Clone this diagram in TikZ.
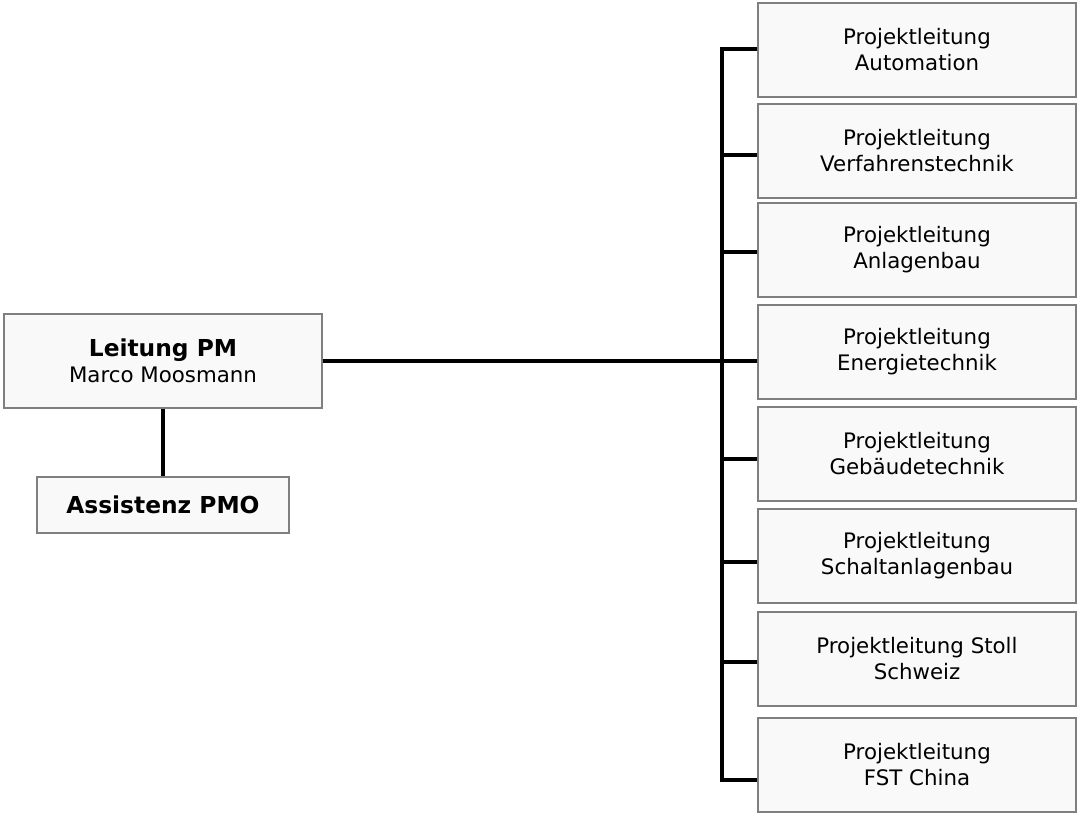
\documentclass[tikz,border=0pt]{standalone}
\usepackage{fontspec}
\setmainfont{DejaVu Sans}
\usetikzlibrary{calc}
\definecolor{boxline}{HTML}{7F7F7F}
\definecolor{boxfill}{HTML}{F9F9F9}

\begin{document}
\begin{tikzpicture}[x=0.75pt,y=-0.75pt]
\tikzset{
    box/.style={draw=boxline, fill=boxfill, line width=1.1pt, align=center, inner sep=0pt,
        minimum width=238.5pt, minimum height=70.5pt,
        font=\fontsize{16}{19.5}\selectfont},
    boldtext/.style={font=\bfseries\fontsize{17.5}{19}\selectfont},
    conn/.style={line width=3pt},
}
\useasboundingbox (0,0) rectangle (1077,815);
\coordinate (busx) at (722,0);

% Leitung and Assistenz
\node[box] (lead) at (163,361) {{\bfseries\fontsize{17.5}{19}\selectfont Leitung PM}\\Marco Moosmann};
\node[box, boldtext, minimum width=189pt, minimum height=42pt] (pmo) at (163,505) {Assistenz PMO};

% Projektleitungen
\foreach \name/\cy/\off/\txt in {
    auto/50/-1/{Projektleitung\\Automation},
    verf/151/4/{Projektleitung\\Verfahrenstechnik},
    anla/250/2/{Projektleitung\\Anlagenbau},
    ener/352/9/{Projektleitung\\Energietechnik},
    gebd/454/5/{Projektleitung\\Gebäudetechnik},
    scha/556/6/{Projektleitung\\Schaltanlagenbau},
    stol/659/3/{Projektleitung Stoll\\Schweiz},
    fstc/765/15/{Projektleitung\\FST China}} {
    \node[box] (\name) at (917,\cy) {\txt};
    \draw[conn] ($(\name.west)+(0,\off)$) coordinate (j\name) -- (busx |- j\name);
}

% Verbindungen
\coordinate (bustop) at (busx |- jauto);
\coordinate (busbot) at (busx |- jfstc);
\draw[conn, line cap=rect] (bustop) -- (busbot);
\draw[conn] (lead.east) -- (lead.east -| bustop);
\draw[conn] (lead.south) -- (pmo.north);

\end{tikzpicture}
\end{document}
